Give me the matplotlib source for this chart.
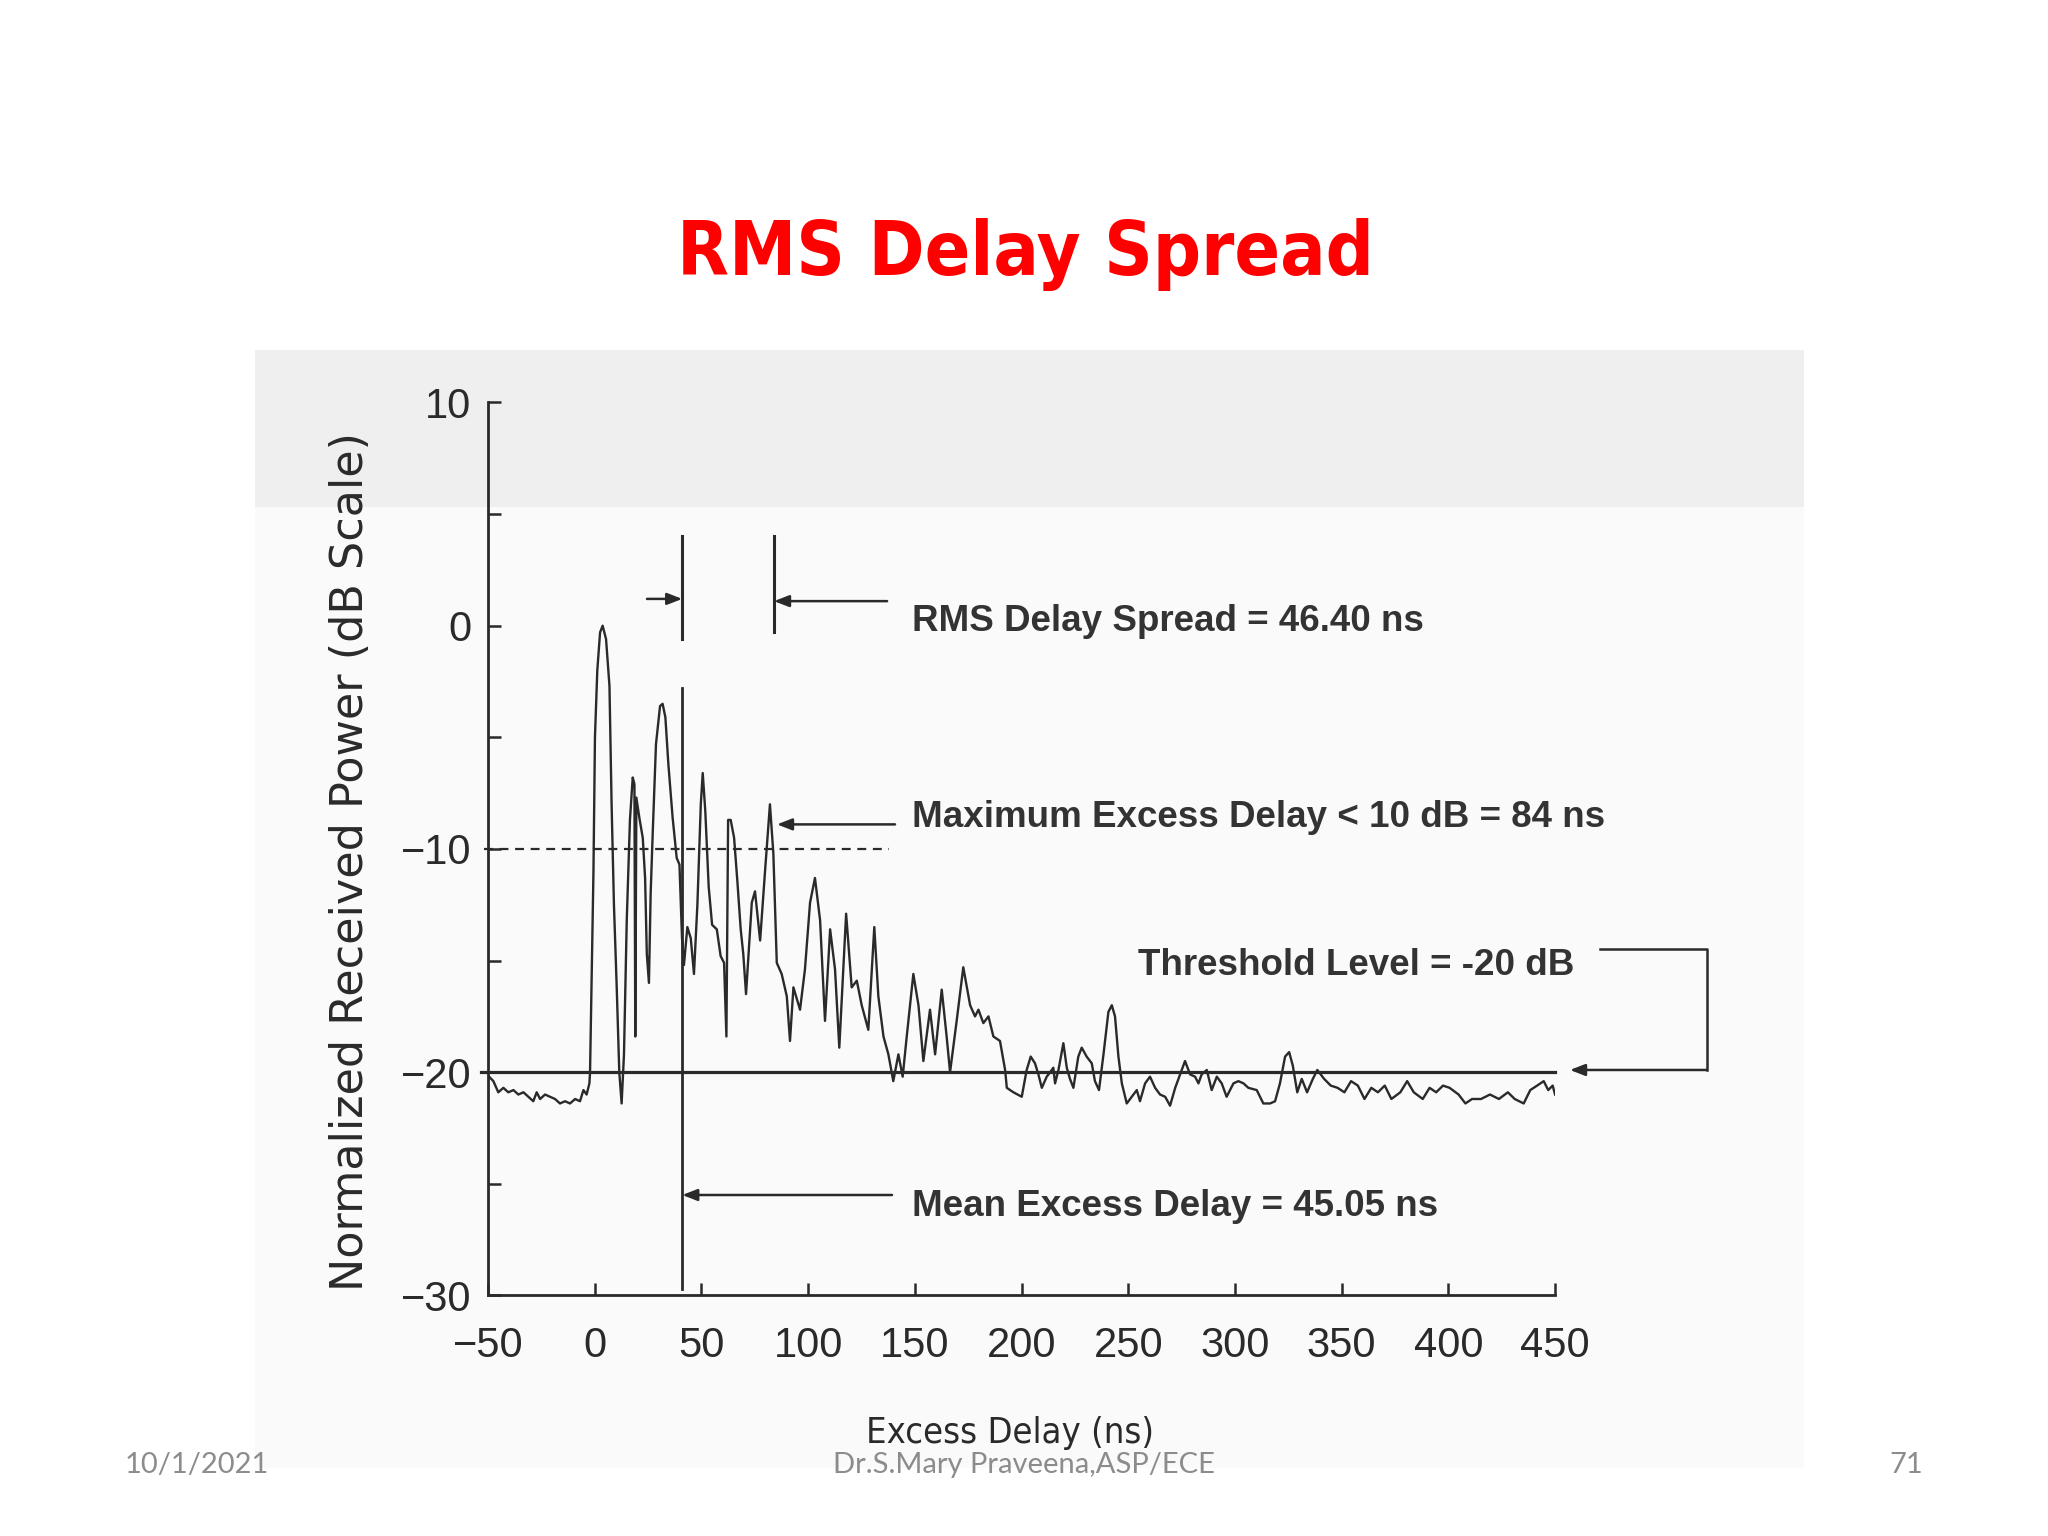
import matplotlib
matplotlib.use("Agg")
import matplotlib.pyplot as plt
from matplotlib.patches import Rectangle

# ---------------- data ----------------
delay_ns = [
    -49.5, -47.5, -45.2, -42.8, -40.5, -38.1, -35.8, -33.4, -31.1, -28.8, -27.2, -25.6,
    -23.3, -20.9, -18.6, -16.3, -13.9, -11.6, -9.2, -6.9, -5.3, -3.8, -2.5,
    -2.2, -1.4, -0.6, 0.1, 1.2, 2.5, 3.7, 5.3, 6.9, 7.9, 9.0, 10.3, 11.5, 12.6, 13.7,
    15.0, 16.5, 17.8, 18.6, 19.0, 19.5, 20.9, 22.5, 23.6, 24.4, 25.4, 26.2, 27.2, 28.7,
    30.6, 31.8, 33.1, 34.5, 36.5, 38.4, 39.7, 40.9, 41.8, 43.4, 45.0, 46.5, 48.1, 49.7,
    50.6, 51.8, 53.4, 55.0, 57.2, 59.0, 60.6, 61.7, 62.5, 63.7, 65.3, 66.8, 68.4, 69.6,
    70.9, 73.6, 75.1, 77.5, 79.8, 82.1, 83.7, 85.3, 87.6, 90.0, 91.5, 93.1, 96.2, 98.5,
    100.9, 103.2, 105.6, 107.9, 110.3, 112.6, 114.6, 117.8, 120.4, 122.8, 125.1, 128.2,
    131.0, 132.9, 135.3, 137.6, 139.9, 142.3, 144.3, 146.2, 149.3, 151.7, 154.0, 157.1,
    159.5, 162.6, 164.9, 166.5, 169.6, 172.7, 175.9, 178.2, 179.8, 182.1, 184.5, 186.8,
    189.9, 192.3, 193.1, 196.2, 200.1, 202.4, 204.3, 206.3, 207.9, 209.5, 211.8, 213.4,
    214.9, 215.7, 217.3, 219.6, 221.2, 222.7, 224.3, 226.6, 228.2, 230.5, 232.9, 234.4,
    236.3, 238.4, 240.7, 242.3, 243.8, 245.4, 247.0, 249.3, 252.4, 254.0, 255.5, 257.9,
    260.2, 262.6, 264.9, 267.3, 269.6, 272.0, 274.3, 276.6, 279.0, 281.3, 282.9, 284.4,
    286.8, 289.1, 291.5, 293.8, 296.1, 299.3, 301.6, 304.0, 306.3, 310.2, 313.3, 316.5,
    318.8, 321.1, 323.5, 325.4, 327.1, 329.2, 331.3, 333.8, 336.5, 338.6, 341.8, 344.9,
    348.1, 351.3, 354.4, 357.6, 360.7, 363.9, 367.0, 370.2, 373.3, 377.5, 380.7, 383.8,
    388.0, 391.2, 394.3, 397.5, 400.6, 404.8, 408.0, 411.1, 415.3, 419.5, 423.7, 427.9,
    431.1, 435.3, 438.4, 441.6, 444.7, 446.8, 448.9, 450.0,
]
power_db = [
    -20.2, -20.4, -20.9, -20.7, -20.9, -20.8, -21.0, -20.9, -21.1, -21.3, -20.9, -21.2,
    -21.0, -21.1, -21.2, -21.4, -21.3, -21.4, -21.2, -21.3, -20.8, -21.0, -20.5,
    -20.0, -15.4, -11.0, -5.0, -2.0, -0.3, 0.0, -0.6, -2.7, -8.0, -12.5, -16.2, -20.0, -21.4, -19.2,
    -13.2, -8.7, -6.8, -7.1, -18.4, -7.7, -8.6, -9.5, -11.3, -14.7, -16.0, -12.0, -9.2, -5.3,
    -3.6, -3.5, -4.1, -6.2, -8.6, -10.4, -10.7, -14.0, -15.2, -13.5, -14.0, -15.6, -12.5, -8.0,
    -6.6, -8.3, -11.7, -13.4, -13.6, -14.8, -15.1, -18.4, -8.7, -8.7, -9.5, -11.4, -13.6, -14.7,
    -16.5, -12.4, -11.9, -14.1, -11.0, -8.0, -10.2, -15.1, -15.6, -16.6, -18.6, -16.2, -17.2, -15.4,
    -12.4, -11.3, -13.2, -17.7, -13.6, -15.4, -18.9, -12.9, -16.2, -15.9, -17.0, -18.1,
    -13.5, -16.6, -18.4, -19.2, -20.4, -19.2, -20.2, -18.4, -15.6, -17.0, -19.5, -17.2,
    -19.2, -16.3, -18.4, -20.0, -17.7, -15.3, -17.0, -17.5, -17.2, -17.8, -17.5, -18.4,
    -18.6, -19.9, -20.7, -20.9, -21.1, -19.9, -19.3, -19.6, -20.1, -20.7, -20.2, -20.0,
    -19.8, -20.5, -19.9, -18.7, -19.8, -20.3, -20.7, -19.3, -18.9, -19.3, -19.6, -20.4,
    -20.8, -19.2, -17.3, -17.0, -17.5, -19.3, -20.5, -21.4, -21.0, -20.8, -21.3, -20.5,
    -20.2, -20.7, -21.0, -21.1, -21.5, -20.7, -20.1, -19.5, -20.1, -20.2, -20.5, -20.1,
    -19.9, -20.8, -20.2, -20.5, -21.1, -20.5, -20.4, -20.5, -20.7, -20.8, -21.4, -21.4,
    -21.3, -20.5, -19.3, -19.1, -19.7, -20.9, -20.3, -20.9, -20.3, -19.9, -20.3, -20.6,
    -20.7, -20.9, -20.4, -20.6, -21.2, -20.7, -20.9, -20.6, -21.2, -20.9, -20.4, -20.9,
    -21.2, -20.7, -20.9, -20.6, -20.7, -21.0, -21.4, -21.2, -21.2, -21.0, -21.2, -20.9,
    -21.2, -21.4, -20.8, -20.6, -20.4, -20.8, -20.6, -21.0,
]

x_ticks = [-50, 0, 50, 100, 150, 200, 250, 300, 350, 400, 450]
y_ticks = [-30, -20, -10, 0, 10]

threshold_db = -20
max_excess_level_db = -10
mean_marker_ns = 41
rms_right_ns = 84

title_text = "RMS Delay Spread"
xlabel_text = "Excess Delay (ns)"
ylabel_text = "Normalized Received Power (dB Scale)"
rms_text = "RMS Delay Spread = 46.40 ns"
max_text = "Maximum Excess Delay < 10 dB = 84 ns"
thr_text = "Threshold Level = -20 dB"
mean_text = "Mean Excess Delay = 45.05 ns"
footer_left = "10/1/2021"
footer_mid = "Dr.S.Mary Praveena,ASP/ECE"
footer_right = "71"

# ---------------- figure ----------------
ink = "#2a2a2a"
fig = plt.figure(figsize=(20.48, 15.36), dpi=100)
fig.patch.set_facecolor("white")

# scanned page background
fig.patches.append(Rectangle((0.1245, 0.044), 0.7565, 0.728, transform=fig.transFigure,
                             facecolor="#fafafa", edgecolor="none", zorder=-20))
fig.patches.append(Rectangle((0.1245, 0.670), 0.7565, 0.102, transform=fig.transFigure,
                             facecolor="#efefef", edgecolor="none", zorder=-19))

ax = fig.add_axes([0.2383, 0.1566, 0.521, 0.5814])
ax.set_zorder(1)
ax.patch.set_alpha(0)
ax.set_xlim(-50, 450)
ax.set_ylim(-30, 10)

for s in ["top", "right"]:
    ax.spines[s].set_visible(False)
for s in ["left", "bottom"]:
    ax.spines[s].set_linewidth(2.0)
    ax.spines[s].set_color(ink)

tick_font = dict(family=["Liberation Sans", "DejaVu Sans"], size=30)
ax.set_xticks(x_ticks)
ax.set_yticks(y_ticks)
ax.set_yticks([-25, -15, -5, 5], minor=True)
ax.tick_params(axis="both", which="both", direction="in", length=9, width=1.8, color=ink)
ax.tick_params(axis="x", pad=22)
ax.tick_params(axis="y", pad=12)
ax.set_xticklabels([str(v).replace("-", "\u2212") for v in x_ticks], fontdict=tick_font, color=ink)
ax.set_yticklabels([str(v).replace("-", "\u2212") for v in y_ticks], fontdict=tick_font, color=ink)

# trace
ax.plot(delay_ns, power_db, color=ink, lw=1.7, zorder=3)

# threshold and -10 dB dashed line
ax.plot([-53.5, 450], [threshold_db, threshold_db], color=ink, lw=2.3, clip_on=False, zorder=2)
ax.plot([-52, 138], [max_excess_level_db, max_excess_level_db], color=ink, lw=1.6,
        ls=(0, (4, 3)), clip_on=False, zorder=2)

# mean excess delay vertical line
ax.plot([mean_marker_ns, mean_marker_ns], [-2.8, -29.7], color=ink, lw=2.0, zorder=4)
# RMS spread markers
ax.plot([mean_marker_ns, mean_marker_ns], [-0.6, 4.0], color=ink, lw=2.2, zorder=4)
ax.plot([rms_right_ns, rms_right_ns], [-0.3, 4.0], color=ink, lw=2.2, zorder=4)

arrow_kw = dict(arrowstyle="-|>,head_length=0.9,head_width=0.35", color=ink, lw=1.8,
                shrinkA=0, shrinkB=0)
ax.annotate("", xy=(mean_marker_ns, 1.2), xytext=(24.5, 1.2), arrowprops=arrow_kw)
ax.annotate("", xy=(rms_right_ns, 1.1), xytext=(137, 1.1), arrowprops=arrow_kw)
ax.annotate("", xy=(85.4, -8.9), xytext=(140.7, -8.9), arrowprops=arrow_kw)
ax.annotate("", xy=(mean_marker_ns, -25.5), xytext=(139.3, -25.5), arrowprops=arrow_kw)

# threshold bracket
ax.plot([471, 521, 521], [-14.5, -14.5, -19.9], color=ink, lw=1.8, clip_on=False)
ax.annotate("", xy=(457, -19.9), xytext=(521, -19.9), arrowprops=arrow_kw,
            annotation_clip=False)

ann_font = dict(family=["Liberation Sans", "DejaVu Sans"], size=26.5, weight="bold", color="#333333")
ax.text(148.7, 0.2, rms_text, va="center", ha="left", **ann_font)
ax.text(148.7, -8.6, max_text, va="center", ha="left", **ann_font)
ax.text(254.6, -15.2, thr_text, va="center", ha="left", **ann_font)
ax.text(148.7, -26.0, mean_text, va="center", ha="left", **ann_font)

# axis labels
fig.text(0.171, 0.439, ylabel_text, rotation=90, ha="center", va="center",
         family=["DejaVu Sans"], size=32, color=ink)
fig.text(0.493, 0.067, xlabel_text, ha="center", va="center",
         family=["DejaVu Sans"], stretch="condensed", size=26, color=ink)

# title
fig.text(0.5006, 0.834, title_text, ha="center", va="center", color="#ff0000",
         family=["DejaVu Sans"], stretch="condensed",
         weight="bold", size=54)

# footer
foot = dict(family=["Lato", "DejaVu Sans"], size=21, color="#8c8c8c", va="center")
fig.text(0.096, 0.046, footer_left, ha="center", **foot)
fig.text(0.500, 0.046, footer_mid, ha="center", **foot)
fig.text(0.931, 0.046, footer_right, ha="center", **foot)

fig.savefig("out.png", dpi=100)
